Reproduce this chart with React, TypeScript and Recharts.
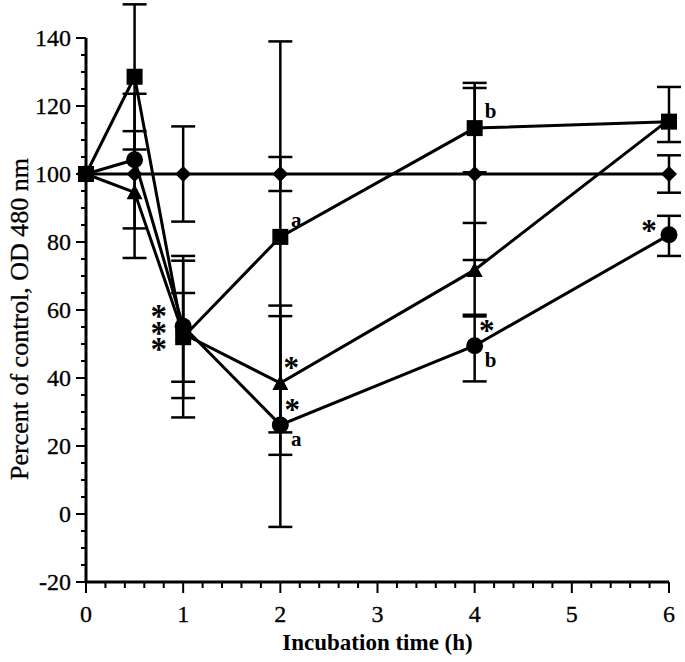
import React from 'react';
import { ComposedChart, Line, XAxis, YAxis, ErrorBar, ReferenceLine } from 'recharts';

const times = [0, 0.5, 1, 2, 4, 6];

const controlValues = [100, 100, 100, 100, 100, 100];
const controlErrors = [null, null, [14, 14], [5, 5], [25.3, 25.3], [5.5, 5.5]];

const squareValues = [100, 128.6, 52, 81.5, 113.5, 115.4];
const squareErrors = [null, [21.4, 21.3], [23.6, 23.9], [57.5, 57.5], [13, 13.3], [6, 10.2]];
const squareNotes = ['', '', '', 'a', 'b', ''];

const circleValues = [100, 104.2, 55.2, 26.2, 49.5, 82.1];
const circleErrors = [null, [20.2, 19.4], [21.1, 19.3], [30, 32], [10.5, 8.6], [6.2, 5.6]];
const circleNotes = ['', '', '', 'a', 'b', ''];
const circleStars = ['', '', '***', '*', '*', '*'];

const triangleValues = [100, 94.6, 53, 38.5, 71.8, 116];
const triangleErrors = [null, [19.3, 18], [14.1, 12], [21.1, 22.8], [13.2, 13.8], null];
const triangleStars = ['', '', '', '*', '', ''];

const xTickLabels = [0, 1, 2, 3, 4, 5, 6];
const yTickLabels = [-20, 0, 20, 40, 60, 80, 100, 120, 140];

const xTicks: number[] = [];
for (let k = 0; k <= 30; k++) xTicks.push(Math.round(k * 2) / 10);
const yTicks: number[] = [];
for (let v = -20; v <= 140; v += 5) yTicks.push(v);

const build = (values: number[], errors: any[], notes?: string[], stars?: string[]) =>
  times.map((t, i) => ({
    t,
    v: values[i],
    e: errors[i],
    note: notes ? notes[i] : '',
    star: stars ? stars[i] : '',
  }));

const controlData = build(controlValues, controlErrors);
const squareData = build(squareValues, squareErrors, squareNotes);
const circleData = build(circleValues, circleErrors, circleNotes, circleStars);
const triangleData = build(triangleValues, triangleErrors, undefined, triangleStars);

const FONT = '"Liberation Serif", "Times New Roman", serif';
const INK = '#000';
const STAR_SIZE = 31;
const STAR_DROP = 15; // baseline below visual centre
const LETTER_SIZE = 21;
const LETTER_DROP = 7;

const Letter = ({ x, y, s }: any) => (
  <text x={x} y={y + LETTER_DROP} textAnchor="middle" fontSize={LETTER_SIZE} fontWeight="bold" fontFamily={FONT} fill={INK}>
    {s}
  </text>
);
const Star = ({ x, y }: any) => (
  <text x={x} y={y + STAR_DROP} textAnchor="middle" fontSize={STAR_SIZE} fontWeight="bold" fontFamily={FONT} fill={INK}>
    *
  </text>
);

const renderDot = (shape: string) => (p: any) => {
  const { cx, cy, index, payload } = p;
  if (cx == null || cy == null) return <g key={`${shape}-${index}`} />;
  let mark: React.ReactNode = null;
  if (shape === 'square') mark = <rect x={cx - 8} y={cy - 8} width={16} height={16} fill={INK} />;
  else if (shape === 'diamond')
    mark = <polygon points={`${cx},${cy - 8} ${cx + 8},${cy} ${cx},${cy + 8} ${cx - 8},${cy}`} fill={INK} />;
  else if (shape === 'circle') mark = <circle cx={cx} cy={cy} r={8.5} fill={INK} />;
  else mark = <polygon points={`${cx},${cy - 8} ${cx + 8},${cy + 7} ${cx - 8},${cy + 7}`} fill={INK} />;

  const last = index === times.length - 1;
  const extras: React.ReactNode[] = [];
  if (payload.note) {
    if (shape === 'square') extras.push(<Letter key="n" x={cx + 16} y={cy - 17} s={payload.note} />);
    else extras.push(<Letter key="n" x={cx + 16} y={cy + 14} s={payload.note} />);
  }
  if (payload.star === '***') {
    const x0 = cx - 25 - STAR_SIZE * 0.25;
    const y0 = cy - 14 + STAR_DROP;
    extras.push(
      <g key="ss" transform={`translate(${x0},${y0}) rotate(90)`}>
        <text x={0} y={0} rotate="-90" fontSize={STAR_SIZE + 2} fontWeight="bold" fontFamily={FONT} fill={INK}>
          ***
        </text>
      </g>
    );
  } else if (payload.star) {
    if (last) extras.push(<Star key="s" x={cx - 20} y={cy - 9} />);
    else if (shape === 'triangle') extras.push(<Star key="s" x={cx + 11} y={cy - 20} />);
    else extras.push(<Star key="s" x={cx + 12} y={cy - 20} />);
  }
  return (
    <g key={`${shape}-${index}`}>
      {mark}
      {extras}
    </g>
  );
};

const XTick = (props: any) => {
  const { x, y, payload } = props;
  const v = payload.value;
  const major = xTickLabels.some((m) => Math.abs(m - v) < 1e-6);
  return (
    <g>
      <line x1={x} y1={y} x2={x} y2={y + (major ? 11 : 6)} stroke={INK} strokeWidth={2} />
      {major && (
        <text x={x} y={y + 40} textAnchor="middle" fontSize={24} fontFamily={FONT} fill={INK} stroke={INK} strokeWidth={0.3}>
          {Math.round(v)}
        </text>
      )}
    </g>
  );
};

const YTick = (props: any) => {
  const { x, y, payload } = props;
  const v = payload.value;
  const major = yTickLabels.includes(v);
  return (
    <g>
      <line x1={x - (major ? 10 : 5)} y1={y} x2={x} y2={y} stroke={INK} strokeWidth={2} />
      {major && (
        <text x={x - 15} y={y + 8} textAnchor="end" fontSize={24} fontFamily={FONT} fill={INK} stroke={INK} strokeWidth={0.3}>
          {v}
        </text>
      )}
    </g>
  );
};

const XLabel = (props: any) => {
  const vb = props.viewBox || {};
  return (
    <text
      x={vb.x + vb.width / 2}
      y={vb.y + 68}
      textAnchor="middle"
      fontSize={23}
      fontWeight="bold"
      fontFamily={FONT}
      fill={INK}
    >
      Incubation time (h)
    </text>
  );
};

const YLabel = (props: any) => {
  const vb = props.viewBox || {};
  const x = vb.x + 2;
  const y = vb.y + vb.height / 2 + 26;
  return (
    <text
      x={x}
      y={y}
      transform={`rotate(-90, ${x}, ${y})`}
      textAnchor="middle"
      fontSize={26}
      fontFamily={FONT}
      fill={INK}
      stroke={INK}
      strokeWidth={0.3}
    >
      Percent of control, OD 480 nm
    </text>
  );
};

const errProps = { dataKey: 'e', direction: 'y' as const, width: 12, stroke: INK, strokeWidth: 2.5 };

export default function App() {
  return (
    <div style={{ position: 'absolute', left: 0, top: 0, width: 685, height: 662, background: '#fff' }}>
      <ComposedChart width={685} height={662} margin={{ top: 4, right: 16, bottom: 0, left: 26 }}>
        <XAxis
          type="number"
          dataKey="t"
          domain={[0, 6]}
          ticks={xTicks}
          interval={0}
          tick={<XTick />}
          tickLine={false}
          tickSize={0}
          tickMargin={0}
          height={80}
          axisLine={{ stroke: INK, strokeWidth: 3 }}
          label={<XLabel />}
          allowDecimals
        />
        <YAxis
          type="number"
          domain={[-20, 150]}
          ticks={yTicks}
          interval={0}
          tick={<YTick />}
          tickLine={false}
          tickSize={0}
          tickMargin={0}
          width={60}
          axisLine={false}
          label={<YLabel />}
        />
        <ReferenceLine
          segment={[
            { x: 0, y: -20 },
            { x: 0, y: 140 },
          ]}
          stroke={INK}
          strokeWidth={3}
        />
        <Line
          data={controlData}
          dataKey="v"
          stroke={INK}
          strokeWidth={3}
          dot={renderDot('diamond')}
          activeDot={false}
          isAnimationActive={false}
          type="linear"
        >
          <ErrorBar {...errProps} />
        </Line>
        <Line
          data={squareData}
          dataKey="v"
          stroke={INK}
          strokeWidth={3}
          dot={renderDot('square')}
          activeDot={false}
          isAnimationActive={false}
          type="linear"
        >
          <ErrorBar {...errProps} />
        </Line>
        <Line
          data={triangleData}
          dataKey="v"
          stroke={INK}
          strokeWidth={3}
          dot={renderDot('triangle')}
          activeDot={false}
          isAnimationActive={false}
          type="linear"
        >
          <ErrorBar {...errProps} />
        </Line>
        <Line
          data={circleData}
          dataKey="v"
          stroke={INK}
          strokeWidth={3}
          dot={renderDot('circle')}
          activeDot={false}
          isAnimationActive={false}
          type="linear"
        >
          <ErrorBar {...errProps} />
        </Line>
      </ComposedChart>
    </div>
  );
}
